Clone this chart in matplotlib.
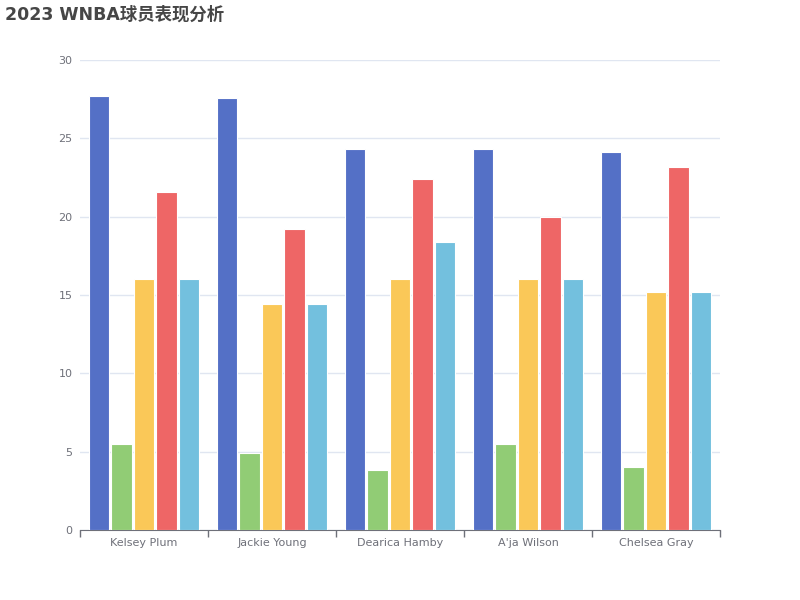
import numpy as np
import matplotlib
matplotlib.use('Agg')
from matplotlib import pyplot as plt

plt.rcParams['font.family'] = ['DejaVu Sans', 'Noto Sans CJK SC']

players = ['Kelsey Plum', 'Jackie Young', 'Dearica Hamby', "A'ja Wilson", 'Chelsea Gray']
s1 = [27.7, 27.6, 24.3, 24.3, 24.1]
s2 = [5.5, 4.9, 3.8, 5.5, 4.0]
s3 = [16.0, 14.4, 16.0, 16.0, 15.2]
s4 = [21.6, 19.2, 22.4, 20.0, 23.2]
s5 = [16.0, 14.4, 18.4, 16.0, 15.2]
yticks = [0, 5, 10, 15, 20, 25, 30]

colors = ['#5470c6', '#91cc75', '#fac858', '#ee6666', '#73c0de']
axis_col = '#6E7079'

fig = plt.figure(figsize=(8, 6), dpi=100)
ax = fig.add_axes([0.1, 0.1167, 0.8, 0.7833])

x = np.arange(len(players))
w = 0.16
step = 0.176
for i, vals in enumerate([s1, s2, s3, s4, s5]):
    ax.bar(x + (i - 2) * step, vals, width=w, color=colors[i],
           edgecolor='white', linewidth=0.8, zorder=3)

ax.set_xlim(-0.5, len(players) - 0.5)
ax.set_ylim(0, 30)
ax.set_yticks(yticks)
ax.set_yticklabels([str(t) for t in yticks], color=axis_col, fontsize=8)
ax.yaxis.grid(True, color='#E0E6F1', linewidth=1, zorder=0)
ax.tick_params(axis='y', length=0, pad=5.5)

ax.set_xticks(x)
ax.set_xticklabels(players, color=axis_col, fontsize=8)
ax.tick_params(axis='x', length=0, pad=6)
ax.set_xticks(np.arange(len(players) + 1) - 0.5, minor=True)
ax.tick_params(axis='x', which='minor', length=5, color=axis_col, width=1)

for s in ['top', 'right', 'left']:
    ax.spines[s].set_visible(False)
ax.spines['bottom'].set_color(axis_col)

fig.text(0.006, 0.99, '2023 WNBA球员表现分析', fontsize=12.5, fontweight='bold',
         color='#464646', va='top', ha='left')

fig.savefig('out.png', dpi=100)
